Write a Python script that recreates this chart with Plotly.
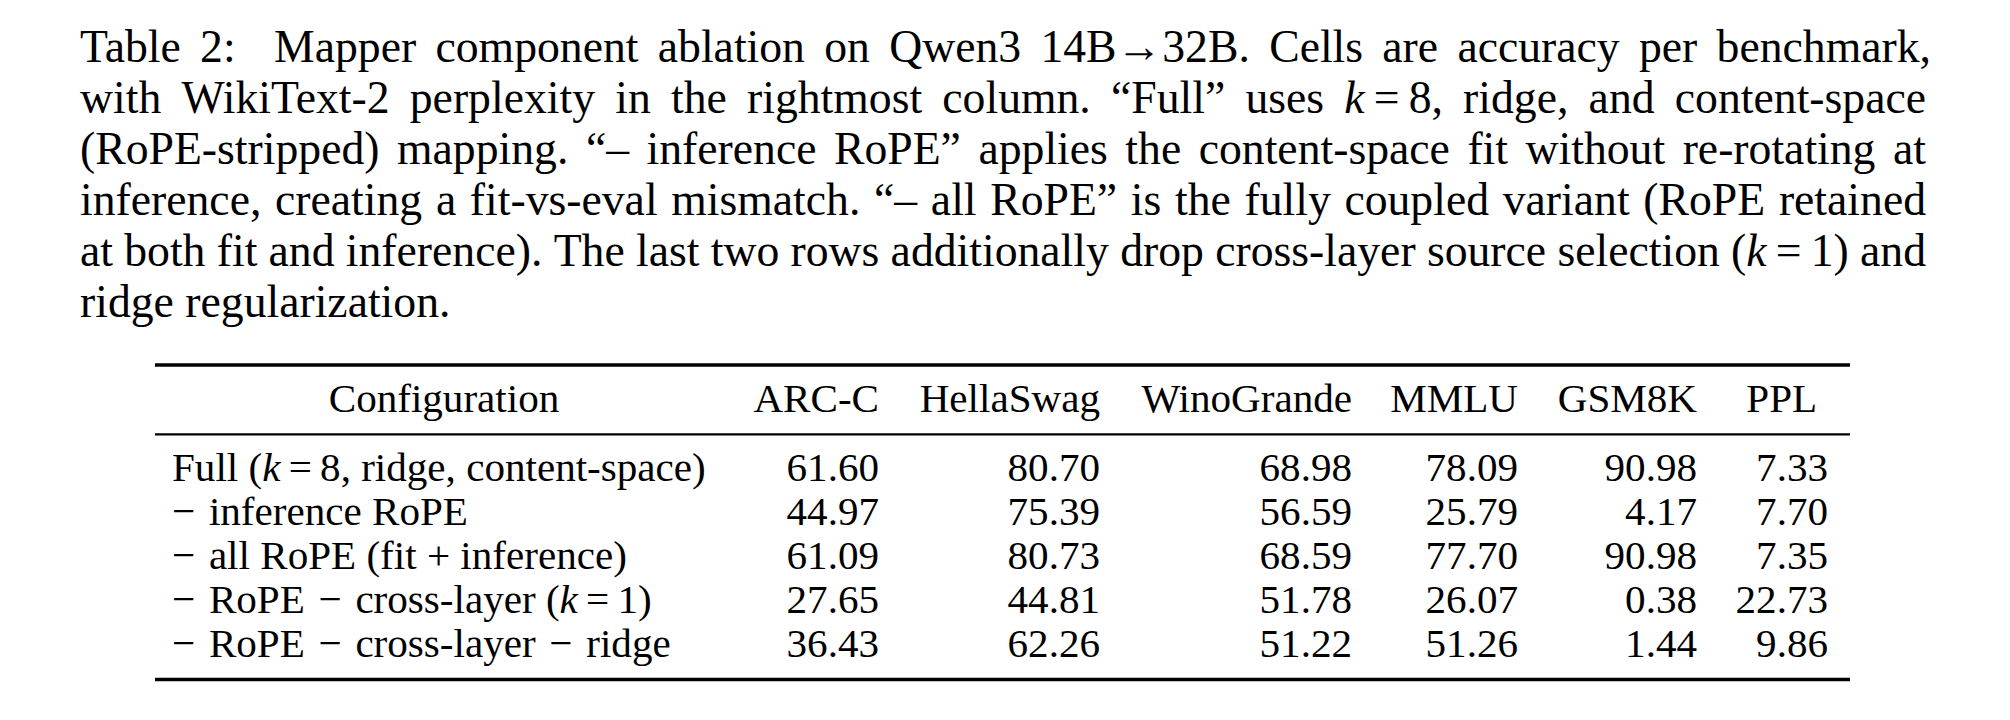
import glob
import plotly.graph_objects as go

## Data

caption_lines = [
    'Table 2:  Mapper component ablation on Qwen3 14B→32B. Cells are accuracy per benchmark,',
    'with WikiText-2 perplexity in the rightmost column. “Full” uses <i>k</i>\u2009=\u20098, ridge, and content-space',
    '(RoPE-stripped) mapping. “– inference RoPE” applies the content-space fit without re-rotating at',
    'inference, creating a fit-vs-eval mismatch. “– all RoPE” is the fully coupled variant (RoPE retained',
    'at both fit and inference). The last two rows additionally drop cross-layer source selection (<i>k</i>\u2009=\u20091) and',
    'ridge regularization.',
]

columns = ['Configuration', 'ARC-C', 'HellaSwag', 'WinoGrande', 'MMLU', 'GSM8K', 'PPL']
configs = [
    'Full (<i>k</i>\u2009=\u20098, ridge, content-space)',
    '− inference RoPE',
    '− all RoPE (fit + inference)',
    '− RoPE − cross-layer (<i>k</i>\u2009=\u20091)',
    '− RoPE − cross-layer − ridge',
]
arc_c = [61.60, 44.97, 61.09, 27.65, 36.43]
hellaswag = [80.70, 75.39, 80.73, 44.81, 62.26]
winogrande = [68.98, 56.59, 68.59, 51.78, 51.22]
mmlu = [78.09, 25.79, 77.70, 26.07, 51.26]
gsm8k = [90.98, 4.17, 90.98, 0.38, 1.44]
ppl = [7.33, 7.70, 7.35, 22.73, 9.86]
values = [arc_c, hellaswag, winogrande, mmlu, gsm8k, ppl]

## Layout constants (pixels of a 2010x720 page)

W, H = 2010, 720
PAD = 8  # default body margin of the html page
FONT = 'Liberation Serif, Times New Roman, Times, serif'
CAP_FS, CAP_LEFT, CAP_RIGHT, CAP_BASE, CAP_LEAD = 45.7, 80, 1926, 62, 51
TAB_FS = 41.1
TAB_LEFT, TAB_RIGHT = 155, 1850
RULES = [(365, 3.6), (434.3, 2.2), (679.5, 3.6)]
HEAD_BASE, ROW_BASE, ROW_LEAD = 412, 481.5, 43.9
LABEL_X = 172
COL_RIGHT = [879, 1100, 1352, 1518, 1697, 1828]


## Text widths (in em) for justifying the caption

try:
    from PIL import ImageFont

    def _font(name):
        return ImageFont.truetype(glob.glob('/usr/share/fonts/**/' + name, recursive=True)[0], 1000)

    _fonts = {False: _font('LiberationSerif-Regular.ttf'), True: _font('LiberationSerif-Italic.ttf')}

    def em(s, italic=False):
        return _fonts[italic].getlength(s) / 1000
except Exception:
    _chars = ' ()+,-.0123456789:=ABCDEFGHIJKLMNOPQRSTUVWXYZabcdefghijklmnopqrstuvwxyz“”–−→\u2009\u00a0'
    _w = [250, 333, 333, 564, 250, 333, 250] + [500] * 10 + [278, 564,
          722, 667, 667, 722, 611, 556, 722, 722, 333, 389, 722, 611, 889, 722, 722, 556, 722, 667, 556, 611,
          722, 722, 944, 722, 722, 611,
          444, 500, 444, 500, 444, 333, 500, 500, 278, 278, 500, 278, 778, 500, 500, 500, 500, 333, 389, 278,
          500, 500, 722, 500, 500, 444, 444, 444, 500, 564, 1000, 200, 250]
    _table = dict(zip(_chars, _w))

    def em(s, italic=False):
        return sum(_table.get(c, 500) for c in s) / 1000


def word_em(word):
    total = 0
    for i, part in enumerate(word.replace('</i>', '<i>').split('<i>')):
        total += em(part, italic=i % 2 == 1)
    return total


def baseline(y, fs):
    # scatter text at 'middle' sits its baseline 0.25*fs below the point
    return y - 0.25 * fs


fig = go.Figure()

## Caption, placed word by word so that the lines are justified

cx, cy, ct, cp = [], [], [], []
for i, line in enumerate(caption_lines):
    words = line.split(' ')
    widths = [word_em(w) * CAP_FS for w in words]
    y = baseline(CAP_BASE + i * CAP_LEAD, CAP_FS)
    right = CAP_RIGHT + (5 if i == 0 else 0)
    if i == len(caption_lines) - 1:
        gap = em(' ') * CAP_FS
    else:
        gap = (right - CAP_LEFT - sum(widths)) / (len(words) - 1)
    x = CAP_LEFT
    for j, (w, ww) in enumerate(zip(words, widths)):
        if j == len(words) - 1 and i != len(caption_lines) - 1:
            cx.append(right)
            cp.append('middle left')
        else:
            cx.append(x)
            cp.append('middle right')
        cy.append(y)
        ct.append(w)
        x += ww + gap

fig.add_trace(go.Scatter(x=cx, y=cy, text=ct, mode='text', textposition=cp,
                         textfont=dict(family=FONT, size=CAP_FS, color='black'), hoverinfo='skip'))

## Table header

head_x = [LABEL_X + 272] + COL_RIGHT[:-1] + [COL_RIGHT[-1] - em('22.73') * TAB_FS / 2]
head_pos = ['middle center'] + ['middle left'] * 5 + ['middle center']
fig.add_trace(go.Scatter(x=head_x, y=[baseline(HEAD_BASE, TAB_FS)] * len(columns), text=columns,
                         mode='text', textposition=head_pos,
                         textfont=dict(family=FONT, size=TAB_FS, color='black'), hoverinfo='skip'))

## Table body

row_y = [baseline(ROW_BASE + i * ROW_LEAD, TAB_FS) for i in range(len(configs))]
labels = [c.replace('− ', '−\u200a ').replace(' −', ' \u200a−') for c in configs]
fig.add_trace(go.Scatter(x=[LABEL_X] * len(configs), y=row_y, text=labels, mode='text',
                         textposition='middle right',
                         textfont=dict(family=FONT, size=TAB_FS, color='black'), hoverinfo='skip'))
for col, xr in zip(values, COL_RIGHT):
    fig.add_trace(go.Scatter(x=[xr] * len(col), y=row_y, text=[f'{v:.2f}' for v in col], mode='text',
                             textposition='middle left',
                             textfont=dict(family=FONT, size=TAB_FS, color='black'), hoverinfo='skip'))

## Booktabs rules

for y, lw in RULES:
    fig.add_shape(type='line', x0=TAB_LEFT, x1=TAB_RIGHT, y0=y, y1=y, xref='x', yref='y',
                  line=dict(color='black', width=lw))

fig.update_layout(width=W, height=H, margin=dict(l=0, r=0, t=0, b=0),
                  paper_bgcolor='white', plot_bgcolor='white', showlegend=False,
                  xaxis=dict(range=[PAD, W + PAD], visible=False, fixedrange=True),
                  yaxis=dict(range=[H + PAD, PAD], visible=False, fixedrange=True))

fig.write_html('out.html')
